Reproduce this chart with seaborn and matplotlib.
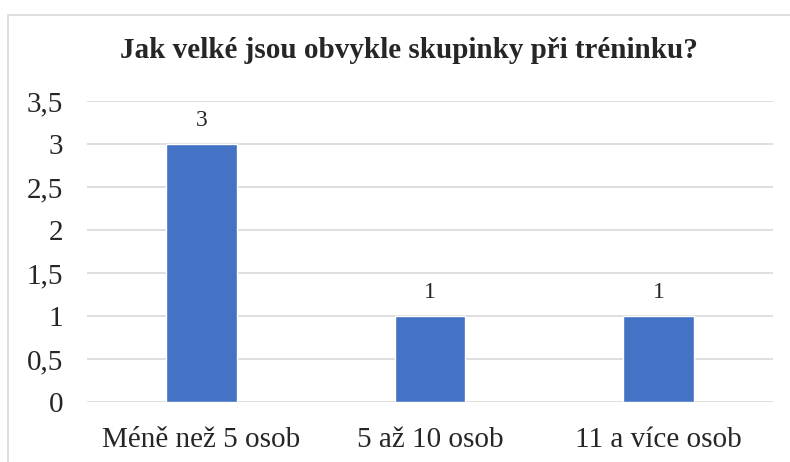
import matplotlib
matplotlib.use("Agg")
import matplotlib.pyplot as plt
import seaborn as sns
import pandas as pd
from matplotlib.patches import Rectangle

categories = ["Méně než 5 osob", "5 až 10 osob", "11 a více osob"]
values = [3, 1, 1]
yticks = [0, 0.5, 1, 1.5, 2, 2.5, 3, 3.5]
ytick_labels = ["0", "0,5", "1", "1,5", "2", "2,5", "3", "3,5"]
title = "Jak velké jsou obvykle skupinky při tréninku?"

sns.set_theme(style="white")
plt.rcParams["font.family"] = ["Liberation Serif", "DejaVu Serif"]

df = pd.DataFrame({"cat": categories, "val": values})

fig = plt.figure(figsize=(7.9, 4.62), dpi=100)
ax = fig.add_axes([87/790, 1-402/462, (773-87)/790, (402-101)/462])

sns.barplot(data=df, x="cat", y="val", color="#4472C4", width=0.31,
            saturation=1, ax=ax, zorder=3)

ax.set_ylim(0, 3.5)
ax.set_yticks(yticks)
ax.set_yticklabels(ytick_labels, fontsize=21)
ax.tick_params(axis="x", labelsize=21, length=0, pad=18)
ax.tick_params(axis="y", length=0, pad=17)
ax.set_xlabel("")
ax.set_ylabel("")
ax.yaxis.grid(True, color="#D9D9D9", linewidth=1.2, zorder=0)
ax.set_axisbelow(True)
for s in ax.spines.values():
    s.set_visible(False)

for c in ax.containers:
    ax.bar_label(c, labels=[str(v) for v in values], padding=9, fontsize=17)

fig.text(409/790, 1-50/462, title, ha="center", va="center",
         fontsize=21, fontweight="bold")

fig.patches.append(Rectangle((8/790, -0.05), 1.0, 1-15/462+0.05,
                             transform=fig.transFigure, fill=False,
                             edgecolor="#D9D9D9", linewidth=1.2))

fig.savefig("out.png", dpi=100)
